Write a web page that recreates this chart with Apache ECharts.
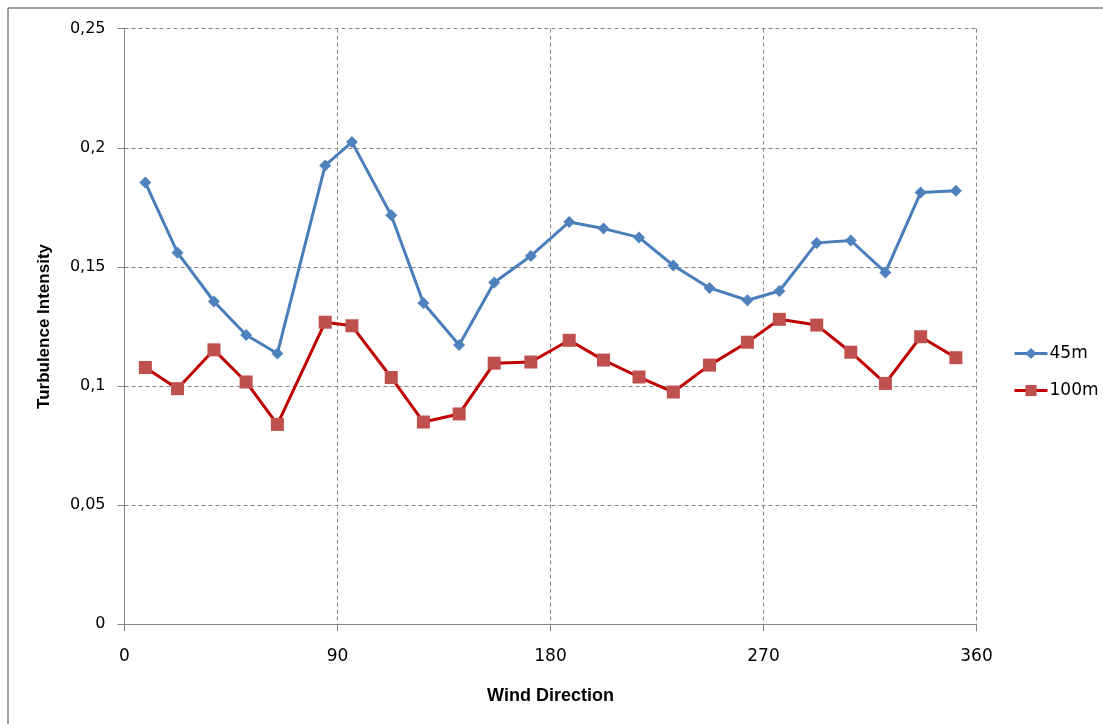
<!DOCTYPE html>
<html>
<head>
<meta charset="utf-8">
<script src="https://cdn.jsdelivr.net/npm/echarts@6/dist/echarts.min.js"></script>
<style>html,body{margin:0;padding:0;background:#fff}#c{width:1103px;height:724px}</style>
</head>
<body>
<div id="c"></div>
<script>
const directions = [8.8, 22.4, 37.8, 51.4, 64.6, 84.8, 96.1, 112.7, 126.3, 141.4, 156.2, 171.7, 187.9, 202.4, 217.4, 231.9, 247.2, 263.2, 276.7, 292.5, 306.9, 321.5, 336.4, 351.3];
const ti45m = [0.1854, 0.1560, 0.1355, 0.1214, 0.1137, 0.1926, 0.2024, 0.1717, 0.1349, 0.1172, 0.1435, 0.1546, 0.1689, 0.1661, 0.1624, 0.1506, 0.1412, 0.1360, 0.1399, 0.1601, 0.1611, 0.1477, 0.1812, 0.1820];
const ti100m = [0.1078, 0.0989, 0.1152, 0.1017, 0.0839, 0.1268, 0.1253, 0.1036, 0.0849, 0.0883, 0.1096, 0.1101, 0.1192, 0.1109, 0.1038, 0.0975, 0.1088, 0.1184, 0.1280, 0.1256, 0.1142, 0.1011, 0.1207, 0.1119];
const seriesNames = ['45m', '100m'];
const xTicks = [0, 90, 180, 270, 360];
const yTicks = [0, 0.05, 0.1, 0.15, 0.2, 0.25];
const xTitle = 'Wind Direction';
const yTitle = 'Turbulence Intensity';

const pairs = (xs, ys) => xs.map((x, i) => [x, ys[i]]);
const chart = echarts.init(document.getElementById('c'), null, {renderer: 'canvas'});
const gridColor = '#868686';
chart.setOption({
  animation: false,
  backgroundColor: '#fff',
  graphic: [
    {type: 'line', shape: {x1: 8, y1: 8, x2: 1103, y2: 8}, style: {stroke: '#808080', lineWidth: 1.5}},
    {type: 'line', shape: {x1: 8, y1: 8, x2: 8, y2: 724}, style: {stroke: '#808080', lineWidth: 1.5}}
  ],
  grid: {left: 124.5, right: 126.5, top: 28.7, bottom: 99.7, containLabel: false},
  legend: {
    orient: 'vertical', left: 1013, top: 345, padding: 0, itemGap: 20, itemWidth: 33, itemHeight: 14,
    data: seriesNames,
    lineStyle: {width: 3},
    textStyle: {fontFamily: 'DejaVu Sans', fontSize: 17, color: '#000', padding: [0, 0, 0, -3]}
  },
  xAxis: {
    type: 'value', min: xTicks[0], max: xTicks[xTicks.length - 1], interval: 90,
    name: xTitle, nameLocation: 'middle', nameGap: 63,
    nameTextStyle: {fontFamily: 'Liberation Sans', fontWeight: 'bold', fontSize: 18, color: '#000'},
    axisLine: {show: true, onZero: false, lineStyle: {color: gridColor, width: 1}},
    axisTick: {show: true, length: 7, inside: false, lineStyle: {color: gridColor}},
    axisLabel: {margin: 24, fontFamily: 'DejaVu Sans', fontSize: 17, color: '#000'},
    splitLine: {show: true, lineStyle: {color: gridColor, type: [4, 3], width: 1}}
  },
  yAxis: {
    type: 'value', min: yTicks[0], max: yTicks[yTicks.length - 1], interval: 0.05,
    name: yTitle, nameLocation: 'middle', nameGap: 72, nameRotate: 90,
    nameTextStyle: {fontFamily: 'Liberation Sans', fontWeight: 'bold', fontSize: 17, color: '#000'},
    axisLine: {show: true, lineStyle: {color: gridColor, width: 1}},
    axisTick: {show: true, length: 7, inside: false, lineStyle: {color: gridColor}},
    axisLabel: {margin: 19, fontFamily: 'DejaVu Sans', fontSize: 16, color: '#000',
      formatter: v => String(Math.round(v * 100) / 100).replace('.', ',')},
    splitLine: {show: true, lineStyle: {color: gridColor, type: [4, 3], width: 1}}
  },
  series: [
    {
      name: seriesNames[0], type: 'line', data: pairs(directions, ti45m),
      symbol: 'diamond', symbolSize: 12, showAllSymbol: true,
      lineStyle: {color: '#4a7ebb', width: 3},
      itemStyle: {color: '#4f81bd', borderWidth: 0}
    },
    {
      name: seriesNames[1], type: 'line', data: pairs(directions, ti100m),
      symbol: 'rect', symbolSize: 13, showAllSymbol: true,
      lineStyle: {color: '#c00000', width: 3},
      itemStyle: {color: '#c0504d', borderWidth: 0}
    }
  ]
});
</script>
</body>
</html>
